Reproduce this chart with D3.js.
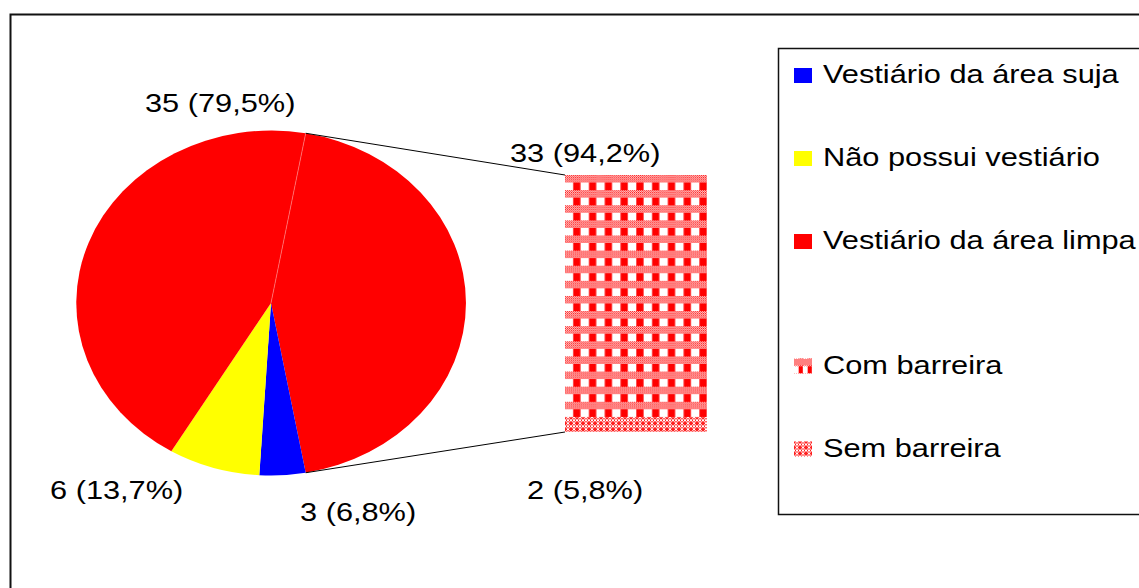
<!DOCTYPE html>
<html>
<head>
<meta charset="utf-8">
<script src="https://cdn.jsdelivr.net/npm/d3@7"></script>
<style>
  body { margin: 0; background: #fff; }
  text { font-family: "Liberation Sans", Arial, sans-serif; fill: #000; }
</style>
</head>
<body>
<svg id="chart"></svg>
<script>
// main pie: the last slice is "other" = sum of the bar values
const mainCategories = ["Vestiário da área suja", "Não possui vestiário", "Vestiário da área limpa"];
const mainValues = [3, 6, 35];
const mainLabels = ["3 (6,8%)", "6 (13,7%)", "35 (79,5%)"];
const mainColors = ["#0000ff", "#ffff00", "#ff0000"];

const barCategories = ["Com barreira", "Sem barreira"];
const barValues = [33, 2];
const barLabels = ["33 (94,2%)", "2 (5,8%)"];

const W = 1139, H = 588;
const fontSize = 25, stretchX = 1.23;   // the source picture is stretched sideways

const svg = d3.select("#chart").attr("width", W).attr("height", H);
const defs = svg.append("defs");

// outer frame
svg.append("rect")
  .attr("x", 10.5).attr("y", 14.5)
  .attr("width", W + 20).attr("height", H + 20)
  .attr("fill", "none").attr("stroke", "#111").attr("stroke-width", 2);

// --- patterns ---
defs.append("pattern")
  .attr("id", "dither").attr("patternUnits", "userSpaceOnUse")
  .attr("width", 2).attr("height", 2)
  .call(p => {
    p.append("rect").attr("width", 2).attr("height", 2).attr("fill", "#fff");
    p.append("rect").attr("width", 1).attr("height", 1).attr("fill", "#ff0000");
    p.append("rect").attr("x", 1).attr("y", 1).attr("width", 1).attr("height", 1).attr("fill", "#ff0000");
  });

function checkPattern(id, x0, y0, pw, ph) {
  const p = defs.append("pattern")
    .attr("id", id).attr("patternUnits", "userSpaceOnUse")
    .attr("x", x0).attr("y", y0)
    .attr("width", pw).attr("height", ph);
  p.append("rect").attr("width", pw).attr("height", ph).attr("fill", "#fff");
  p.append("rect").attr("width", pw).attr("height", ph * 0.5).attr("fill", "url(#dither)");
  p.append("rect").attr("x", pw * 0.52).attr("y", ph * 0.5)
    .attr("width", pw * 0.46).attr("height", ph * 0.5).attr("fill", "#ff0000");
}

// sem barreira: small diamond lattice
const semBits = [
  "rr..rr",
  "r.rr.r",
  ".r..r.",
  ".r..r.",
  "r.rr.r",
  "rr..rr"
];
function latticePattern(id, x0, y0) {
  const p = defs.append("pattern")
    .attr("id", id).attr("patternUnits", "userSpaceOnUse")
    .attr("x", x0).attr("y", y0)
    .attr("width", 6).attr("height", 6);
  p.append("rect").attr("width", 6).attr("height", 6).attr("fill", "#fff");
  semBits.forEach((row, j) => row.split("").forEach((c, i) => {
    if (c === "r") p.append("rect").attr("x", i).attr("y", j).attr("width", 1).attr("height", 1).attr("fill", "#ff2020");
  }));
}

// --- main pie (drawn as an ellipse, like the source) ---
const cx = 271, cy = 303, rx = 195, ry = 172.5;
const otherValue = d3.sum(barValues);
const pieData = [{ name: "other", value: otherValue, color: "#ff0000" }]
  .concat(mainCategories.map((c, i) => ({ name: c, value: mainValues[i], color: mainColors[i], label: mainLabels[i] })));

const total = d3.sum(pieData, d => d.value);
const otherSpan = otherValue / total * 2 * Math.PI;
const start = Math.PI / 2 - otherSpan / 2;   // "other" slice faces the bar

const pie = d3.pie().sort(null).value(d => d.value)
  .startAngle(start).endAngle(start + 2 * Math.PI);
const arcs = pie(pieData);
const arc = d3.arc().innerRadius(0).outerRadius(1);

const pieG = svg.append("g").attr("transform", `translate(${cx},${cy}) scale(${rx},${ry})`);
pieG.selectAll("path")
  .data(arcs)
  .join("path")
  .attr("d", arc)
  .attr("fill", d => d.data.color);

const pt = a => [cx + rx * Math.sin(a), cy - ry * Math.cos(a)];
const otherArc = arcs[0];
const pStart = pt(otherArc.startAngle), pEnd = pt(otherArc.endAngle);

// faint seam between the two red slices
svg.append("line")
  .attr("x1", cx).attr("y1", cy).attr("x2", pStart[0]).attr("y2", pStart[1])
  .attr("stroke", "#ff8080").attr("stroke-width", 0.7);

// --- secondary stacked bar ---
const barX = 565, barW = 142;
const y = d3.scaleLinear().domain([0, otherValue]).range([432, 175]);

checkPattern("comFill", barX, y(otherValue), barW / 9, (y(0) - y(otherValue)) / 17);
latticePattern("semFill", barX, y(barValues[1]));

const stack = [
  { name: barCategories[0], y0: barValues[1], y1: barValues[1] + barValues[0], fill: "url(#comFill)" },
  { name: barCategories[1], y0: 0, y1: barValues[1], fill: "url(#semFill)" }
];
svg.selectAll(".bar")
  .data(stack)
  .join("rect")
  .attr("class", "bar")
  .attr("x", barX).attr("width", barW)
  .attr("y", d => y(d.y1))
  .attr("height", d => y(d.y0) - y(d.y1))
  .attr("fill", d => d.fill);

// connector lines
svg.append("line")
  .attr("x1", pStart[0]).attr("y1", pStart[1]).attr("x2", barX).attr("y2", y(otherValue))
  .attr("stroke", "#000").attr("stroke-width", 1);
svg.append("line")
  .attr("x1", pEnd[0]).attr("y1", pEnd[1]).attr("x2", barX).attr("y2", y(0))
  .attr("stroke", "#000").attr("stroke-width", 1);

// --- data labels ---
function stretchedText(x, yb, str) {
  svg.append("g")
    .attr("transform", `translate(${x},${yb}) scale(${stretchX},1)`)
    .append("text")
    .attr("font-size", fontSize)
    .text(str);
}
const labelPos = { // left x, baseline
  "3 (6,8%)": [300, 521],
  "6 (13,7%)": [50, 499],
  "35 (79,5%)": [145, 112],
  "33 (94,2%)": [510, 162],
  "2 (5,8%)": [527, 499]
};
mainLabels.concat(barLabels).forEach(l => stretchedText(labelPos[l][0], labelPos[l][1], l));

// --- legend ---
svg.append("rect")
  .attr("x", 778.5).attr("y", 48.5)
  .attr("width", 420).attr("height", 466)
  .attr("fill", "none").attr("stroke", "#111").attr("stroke-width", 1.5);

const legendItems = mainCategories.map((c, i) => ({ name: c, fill: mainColors[i], slot: i }))
  .concat([
    { name: barCategories[0], fill: "url(#comSw)", slot: 3.5 },
    { name: barCategories[1], fill: "url(#semSw)", slot: 4.5 }
  ]);
const ly = d3.scaleLinear().domain([0, 1]).range([83, 166]);

checkPattern("comSw", 794, ly(3.5) - 15, 9, 15);
latticePattern("semSw", 794, ly(4.5) - 15);

legendItems.forEach(d => {
  svg.append("rect")
    .attr("x", 794).attr("y", ly(d.slot) - 15)
    .attr("width", 18).attr("height", 15)
    .attr("fill", d.fill);
  stretchedText(823, ly(d.slot), d.name);
});
</script>
</body>
</html>
